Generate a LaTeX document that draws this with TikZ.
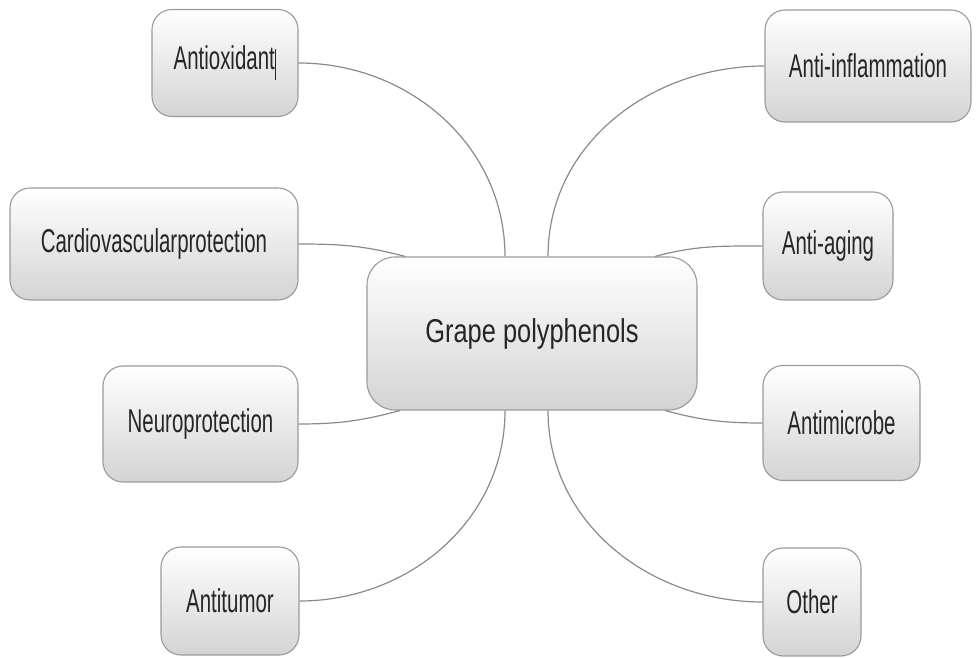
\documentclass[tikz,border=0pt]{standalone}
\usepackage{fontspec}
\newfontfamily\leaffont[FakeStretch=0.62]{Liberation Sans}
\newfontfamily\hubfont[FakeStretch=0.77]{Liberation Sans}
\usepackage{tikz}
\usetikzlibrary{positioning}

\definecolor{boxline}{HTML}{9A9A9A}
\definecolor{linkgray}{HTML}{8A8A8A}
\definecolor{txtgray}{HTML}{262626}

\tikzset{
  leaf/.style={draw=boxline,line width=1.1bp,rounded corners=20bp,top color=white,bottom color=black!17,
    text=txtgray,font=\leaffont\fontsize{33bp}{38bp}\selectfont,inner sep=0pt},
  hub/.style={leaf,rounded corners=28bp,font=\hubfont\fontsize{33bp}{38bp}\selectfont},
  link/.style={draw=linkgray,line width=1.2bp},
}

\begin{document}
\begin{tikzpicture}[line join=round,]
\useasboundingbox (0bp,0bp) rectangle (979bp,659bp);
%%
\node (hub) at (532bp,325.5bp) [hub,minimum width=330bp,minimum height=153bp] {\raisebox{-6bp}{Grape polyphenols}\hspace{20bp}};
  \node (antiox) at (225bp,596bp) [leaf,minimum width=146bp,minimum height=107bp] {Antioxidant\rule[-10bp]{1.5bp}{31bp}};
  \node (cardio) at (154bp,415bp) [leaf,minimum width=288bp,minimum height=112bp] {Cardiovascularprotection};
  \node (neuro) at (200.5bp,235bp) [leaf,minimum width=195bp,minimum height=116bp] {Neuroprotection};
  \node (tumor) at (230bp,58bp) [leaf,minimum width=138bp,minimum height=108bp] {Antitumor};
  \node (inflam) at (868bp,593bp) [leaf,minimum width=206bp,minimum height=112bp] {Anti-inflammation};
  \node (aging) at (828bp,413bp) [leaf,minimum width=130bp,minimum height=108bp] {Anti-aging};
  \node (microbe) at (841.5bp,236bp) [leaf,minimum width=157bp,minimum height=115bp] {Antimicrobe};
  \node (other) at (812bp,57bp) [leaf,minimum width=98bp,minimum height=108bp] {Other};
  \draw [link] (antiox.east) to[out=0,in=90] ([xshift=-27bp]hub.north);
  \draw [link] (cardio.east) to[out=0,in=165] ([xshift=-127bp]hub.north);
  \draw [link] (neuro.east) to[out=0,in=195] ([xshift=-132bp]hub.south);
  \draw [link] (tumor.east) to[out=0,in=-90] ([xshift=-27bp]hub.south);
  \draw [link] (inflam.west) to[out=180,in=90] ([xshift=16bp]hub.north);
  \draw [link] (aging.west) to[out=180,in=15] ([xshift=123bp]hub.north);
  \draw [link] (microbe.west) to[out=180,in=-15] ([xshift=133bp]hub.south);
  \draw [link] (other.west) to[out=180,in=-90] ([xshift=16bp]hub.south);
%
\end{tikzpicture}
\end{document}
